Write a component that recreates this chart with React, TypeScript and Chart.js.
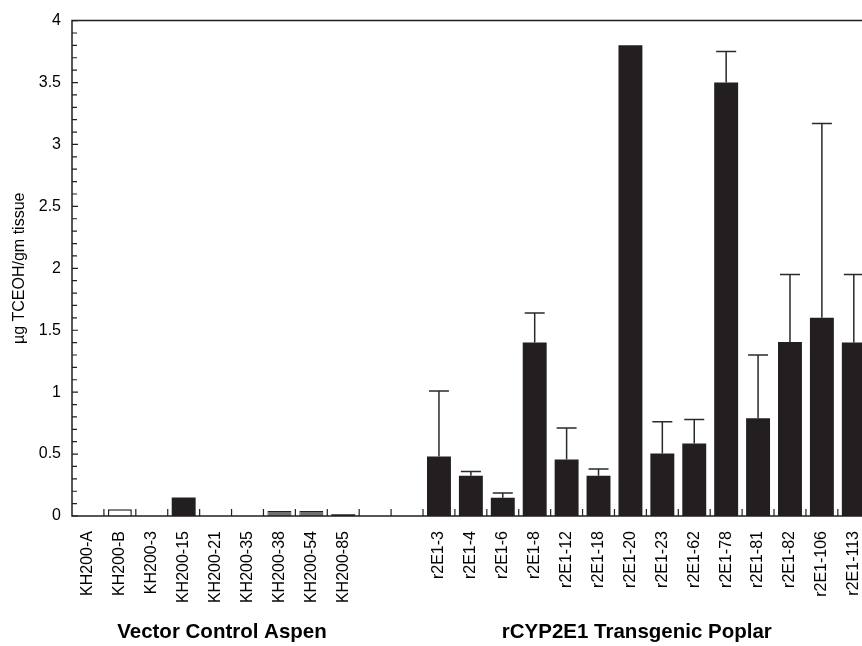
import React, { useEffect, useRef } from "react";
import { Chart, registerables } from "chart.js";

Chart.register(...registerables);

const FONT = "'Liberation Sans', Arial, Helvetica, sans-serif";

const categories = [
  "KH200-A", "KH200-B", "KH200-3", "KH200-15", "KH200-21", "KH200-35", "KH200-38", "KH200-54", "KH200-85",
  "", "",
  "r2E1-3", "r2E1-4", "r2E1-6", "r2E1-8", "r2E1-12", "r2E1-18", "r2E1-20", "r2E1-23", "r2E1-62",
  "r2E1-78", "r2E1-81", "r2E1-82", "r2E1-106", "r2E1-113",
];

const meanValues = [
  0, 0.055, 0, 0.15, 0, 0, 0.04, 0.04, 0.015,
  null, null,
  0.48, 0.325, 0.148, 1.4, 0.457, 0.325, 3.8, 0.505, 0.586,
  3.5, 0.79, 1.405, 1.6, 1.4,
];

const errorTops = [
  null, null, null, null, null, null, null, null, null,
  null, null,
  1.01, 0.36, 0.185, 1.64, 0.71, 0.38, null, 0.76, 0.78,
  3.75, 1.3, 1.95, 3.17, 1.95,
];

const barFills = [
  "#231f20", "#ffffff", "#231f20", "#231f20", "#231f20", "#231f20", "#6f6f6f", "#6f6f6f", "#231f20",
  "#231f20", "#231f20",
  "#231f20", "#231f20", "#231f20", "#231f20", "#231f20", "#231f20", "#231f20", "#231f20", "#231f20",
  "#231f20", "#231f20", "#231f20", "#231f20", "#231f20",
];

const barBorderWidths = [
  0, 1.5, 0, 0, 0, 0, 1, 1, 0,
  0, 0,
  0, 0, 0, 0, 0, 0, 0, 0, 0,
  0, 0, 0, 0, 0,
];

const yTickLabels = ["0", "0.5", "1", "1.5", "2", "2.5", "3", "3.5", "4"];

const groupNames = ["Vector Control Aspen", "rCYP2E1 Transgenic Poplar"];
const groupCenterIndex = [4.2, 17.2];

const yTitle = "µg TCEOH/gm tissue";

const framePlugin = {
  id: "frameAndExtras",
  afterDatasetsDraw(chart: any) {
    const { ctx, scales } = chart;
    const y = scales.y;
    const meta = chart.getDatasetMeta(0);
    ctx.save();
    ctx.strokeStyle = "#2a2a2a";
    ctx.lineWidth = 1.5;
    errorTops.forEach((top, i) => {
      const v = meanValues[i];
      if (top == null || v == null) return;
      const px = meta.data[i].x;
      const y0 = y.getPixelForValue(v);
      const y1 = y.getPixelForValue(top);
      ctx.beginPath();
      ctx.moveTo(px, y0);
      ctx.lineTo(px, y1);
      ctx.moveTo(px - 10, y1);
      ctx.lineTo(px + 10, y1);
      ctx.stroke();
    });
    ctx.restore();
  },
  afterDraw(chart: any) {
    const { ctx, chartArea, scales } = chart;
    const { left, right, top, bottom } = chartArea;
    const x = scales.x;
    const y = scales.y;
    ctx.save();
    ctx.strokeStyle = "#231f20";
    ctx.lineWidth = 1.5;
    ctx.beginPath();
    ctx.moveTo(right, top);
    ctx.lineTo(left, top);
    ctx.lineTo(left, bottom);
    ctx.lineTo(right, bottom);
    ctx.lineTo(right, top);
    ctx.stroke();

    ctx.lineWidth = 1.2;
    ctx.beginPath();
    const yMax = y.max;
    for (let k = 0; k <= Math.round(yMax * 10); k++) {
      const py = y.getPixelForValue(k / 10);
      const len = k % 5 === 0 ? 6 : 5;
      ctx.moveTo(left, py);
      ctx.lineTo(left + len, py);
    }
    for (let i = 1; i < categories.length; i++) {
      const px = (x.getPixelForValue(i - 1) + x.getPixelForValue(i)) / 2;
      ctx.moveTo(px, bottom);
      ctx.lineTo(px, bottom - 7);
    }
    ctx.stroke();

    ctx.fillStyle = "#000";
    ctx.font = `bold 20.5px ${FONT}`;
    ctx.textAlign = "center";
    ctx.textBaseline = "middle";
    groupNames.forEach((name, g) => {
      const cx = x.getPixelForValue(groupCenterIndex[g]);
      ctx.fillText(name, cx, 632);
    });
    ctx.restore();
  },
};

export default function App() {
  const canvasRef = useRef<HTMLCanvasElement | null>(null);

  useEffect(() => {
    if (!canvasRef.current) return;
    Chart.defaults.font.family = FONT;
    const chart = new Chart(canvasRef.current, {
      type: "bar",
      data: {
        labels: categories,
        datasets: [
          {
            data: meanValues as any,
            backgroundColor: barFills,
            borderColor: "#231f20",
            borderWidth: barBorderWidths,
            barPercentage: 0.75,
            categoryPercentage: 1,
          },
        ],
      },
      options: {
        animation: false,
        responsive: false,
        devicePixelRatio: 1,
        layout: { padding: { top: 20, left: 0, right: 0, bottom: 0 } },
        plugins: {
          legend: { display: false },
          tooltip: { enabled: false },
        },
        scales: {
          x: {
            type: "category",
            offset: true,
            grid: { display: false, drawTicks: false },
            border: { display: false },
            ticks: {
              autoSkip: false,
              maxRotation: 90,
              minRotation: 90,
              padding: 15,
              color: "#000",
              font: { size: 16, family: FONT },
            },
            afterFit: (s: any) => {
              s.height = 130;
            },
          },
          y: {
            min: 0,
            max: 4,
            grid: { display: false, drawTicks: false },
            border: { display: false },
            ticks: {
              stepSize: 0.5,
              padding: 11,
              color: "#000",
              font: { size: 16, family: FONT },
              callback: (_v: any, i: number) => yTickLabels[i],
            },
            title: {
              display: true,
              text: yTitle,
              color: "#000",
              font: { size: 16, family: FONT },
              padding: { top: 10, bottom: 0 },
            },
            afterFit: (s: any) => {
              s.width = 72;
            },
          },
        },
      },
      plugins: [framePlugin],
    });
    return () => chart.destroy();
  }, []);

  return (
    <div
      style={{
        position: "fixed",
        left: 0,
        top: 0,
        width: 862,
        height: 646,
        overflow: "hidden",
        background: "#fff",
      }}
    >
      <canvas ref={canvasRef} width={888} height={646} style={{ display: "block" }} />
    </div>
  );
}
